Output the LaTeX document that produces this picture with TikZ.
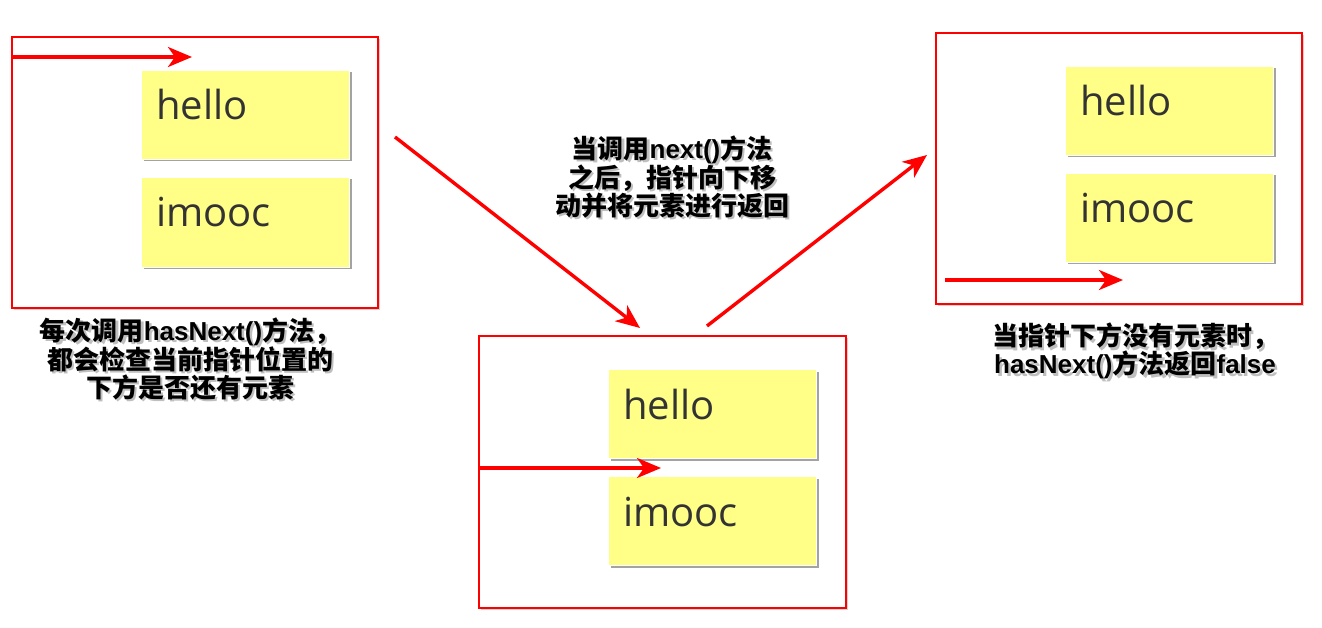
\documentclass[tikz,border=0pt]{standalone}
\usepackage{fontspec}
\usetikzlibrary{arrows.meta,shadows,calc}
\newfontfamily\cjk{Noto Sans CJK SC}
\newfontfamily\latb{Liberation Sans}
\newfontfamily\boxfont{Open Sans}
\newcommand\lt[1]{{\latb\bfseries #1}}
\definecolor{stickyyellow}{RGB}{255,255,136}
\definecolor{boxtext}{RGB}{51,51,51}
\definecolor{pure red}{RGB}{255,0,0}
\tikzset{
  redbox/.style={draw=pure red, line width=2.4pt, fill=white, anchor=north west, inner sep=0pt, outer sep=0pt,
    minimum width=366pt, minimum height=271pt,
    drop shadow={shadow xshift=2pt, shadow yshift=-2pt, opacity=0.35, fill=gray}},
  sticky/.style={draw=white, line width=0.8pt, fill=stickyyellow, anchor=north west, inner sep=0pt, outer sep=0pt,
    minimum width=208pt, minimum height=89pt,
    drop shadow={shadow xshift=2.5pt, shadow yshift=-2.5pt, opacity=0.6, fill=gray!80!black}},
  word/.style={anchor=base west, inner sep=0pt, text=boxtext, font=\boxfont\fontsize{40}{44}\selectfont},
  ptr/.style={draw=pure red, line width=3.4pt, -{Stealth[length=24pt,width=20pt,inset=7pt]}},
  captext/.style={align=center, inner sep=0pt, font=\cjk\bfseries\fontsize{26}{28}\selectfont},
  capshadow/.style={captext, text=black, opacity=0.25},
}
\begin{document}
\begin{tikzpicture}[x=1pt,y=-1pt]
\useasboundingbox (0,0) rectangle (1322,628);
% box 1
\node[redbox] (b1) at (12,37) {};
\node[sticky] (h1) at (141,70) {};
\node[sticky, minimum height=90pt] (i1) at (141,177) {};
\node[word] (h1t) at ($(h1.north west)+(15,50)$) {hello};
\node[word] (i1t) at ($(i1.north west)+(15,50)$) {imooc};
\coordinate (p1s) at (12,57);
\coordinate (p1e) at (192,57);
\draw[ptr] (p1s) -- (p1e);
% box 2
\node[redbox, minimum width=367pt, minimum height=272pt] (b2) at (479,336) {};
\node[sticky] (h2) at (608,369) {};
\node[sticky] (i2) at (608,476) {};
\node[word] (h2t) at ($(h2.north west)+(15,50)$) {hello};
\node[word] (i2t) at ($(i2.north west)+(15,50)$) {imooc};
\coordinate (p2s) at (479,468);
\coordinate (p2e) at (661,468);
\draw[ptr] (p2s) -- (p2e);
% box 3
\node[redbox] (b3) at (936,33) {};
\node[sticky] (h3) at (1065,66) {};
\node[sticky] (i3) at (1065,173) {};
\node[word] (h3t) at ($(h3.north west)+(15,50)$) {hello};
\node[word] (i3t) at ($(i3.north west)+(15,50)$) {imooc};
\coordinate (p3s) at (945,280);
\coordinate (p3e) at (1123,280);
\draw[ptr] (p3s) -- (p3e);
% transition arrows
\coordinate (d1s) at (395,137);
\coordinate (d1e) at (640,328);
\coordinate (d2s) at (707,326);
\coordinate (d2e) at (927,155);
\draw[ptr] (d1s) -- (d1e);
\draw[ptr] (d2s) -- (d2e);
% captions (shadows first)
\node[capshadow] (c1s) at (192.5,361.5) {每次调用\lt{hasNext()}方法，\\都会检查当前指针位置的\\下方是否还有元素};
\node[captext] (c1) at (190,359) {每次调用\lt{hasNext()}方法，\\都会检查当前指针位置的\\下方是否还有元素};
\node[capshadow] (c2s) at (674.5,179.5) {当调用\lt{next()}方法\\之后，指针向下移\\动并将元素进行返回};
\node[captext] (c2) at (672,177) {当调用\lt{next()}方法\\之后，指针向下移\\动并将元素进行返回};
\node[capshadow] (c3s) at (1137.5,353.5) {当指针下方没有元素时，\\\lt{hasNext()}方法返回\lt{false}};
\node[captext] (c3) at (1135,351) {当指针下方没有元素时，\\\lt{hasNext()}方法返回\lt{false}};
\end{tikzpicture}
\end{document}
